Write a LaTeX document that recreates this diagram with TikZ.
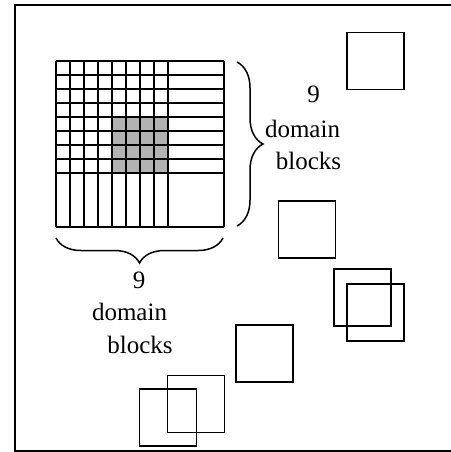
\documentclass[tikz,border=0pt]{standalone}
\usepackage{fontspec}
\setmainfont{Liberation Serif}
\usetikzlibrary{decorations.pathreplacing}

\tikzset{
  gridline/.style={line width=1.9pt},
  blk/.style={draw, line width=1.9pt, minimum size=57pt, inner sep=0pt},
  bracestyle/.style={decorate, line width=1.5pt},
  lbl/.style={anchor=base, inner sep=0pt, font=\fontsize{25}{33}\selectfont}
}

\begin{document}
\begin{tikzpicture}[x=1pt, y=-1pt]
  \useasboundingbox (0,0) rectangle (450,452);

  % outer frame
  \draw[line width=1.9pt] (15,5) rectangle (454,451);

  % highlighted 4x4 sub-block
  \fill[gray!60] (112,117) rectangle (168,173);

  % partition grid: 8 fine columns/rows plus one wide column/row
  \foreach \x in {56,70,84,98,112,126,140,154,168,224}
    \draw[gridline] (\x,61) -- (\x,227);
  \foreach \y in {61,75,89,103,117,131,145,159,173,227}
    \draw[gridline] (56,\y) -- (224,\y);

  % braces
  \coordinate (rb1) at (237,62);
  \coordinate (rb2) at (237,226);
  \coordinate (bb1) at (223,238);
  \coordinate (bb2) at (56,238);
  \draw[bracestyle, decoration={brace, amplitude=26pt}] (rb1) -- (rb2);
  \draw[bracestyle, decoration={brace, amplitude=25pt}] (bb1) -- (bb2);

  % labels at the right
  \node[lbl] (r9) at (313.5,102) {9};
  \node[lbl] (rdom) at (302.5,137) {domain};
  \node[lbl] (rblk) at (308.5,169) {blocks};

  % labels below
  \node[lbl] (b9) at (139,288) {9};
  \node[lbl] (bdom) at (129.5,320) {domain};
  \node[lbl] (bblk) at (140,353) {blocks};

  % range blocks
  \node[blk] (s1)  at (375.5,61) {};
  \node[blk] (s2)  at (307,229.5) {};
  \node[blk] (s3a) at (362.5,297.5) {};
  \node[blk] (s3b) at (375.5,312.5) {};
  \node[blk] (s4)  at (264.5,353.5) {};
  \node[blk] (s5a) at (196,404) {};
  \node[blk] (s5b) at (168,417.5) {};
\end{tikzpicture}
\end{document}
